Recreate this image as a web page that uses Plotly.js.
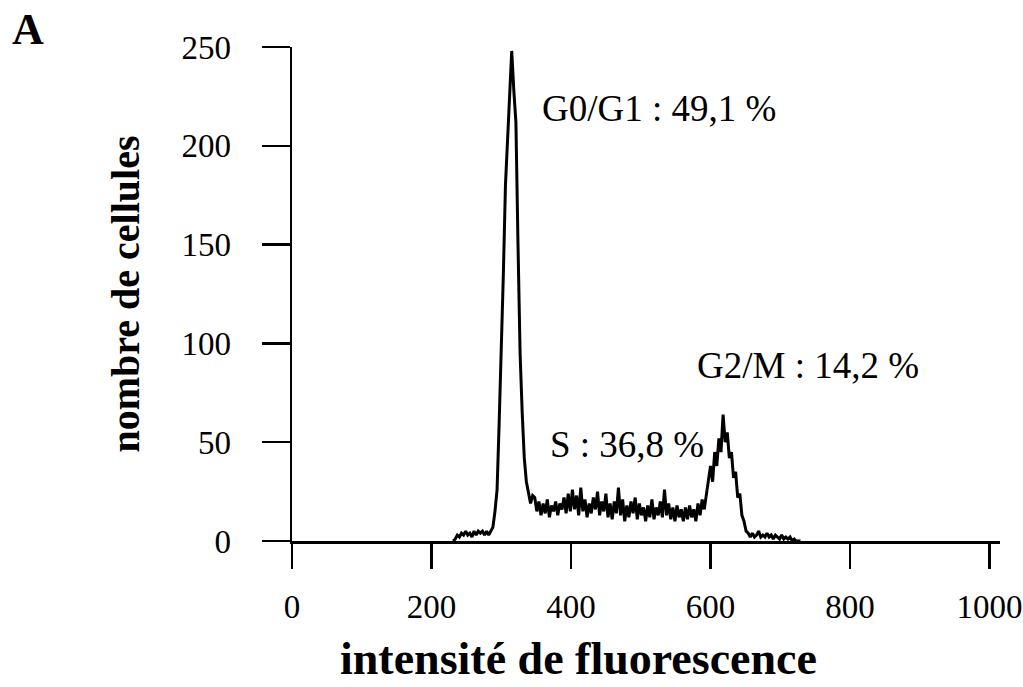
<!DOCTYPE html>
<html>
<head>
<meta charset="utf-8">
<script src="https://cdn.plot.ly/plotly-3.0.1.min.js"></script>
<style>html,body{margin:0;padding:0;background:#fff;}#chart{width:1023px;height:687px;}</style>
</head>
<body>
<div id="chart"></div>
<script>
// fluorescence channel
const channel = [
  231,234,237,240,243,246,249,252,255,258,
  261,264,267,270,273,276,279,282,285,288,
  291,294,297,300,303,306,309,312,315,318,
  321,324,327,330,333,336,339,342,345,348,
  351,354,357,360,363,366,369,372,375,378,
  381,384,387,390,393,396,399,402,405,408,
  411,414,417,420,423,426,429,432,435,438,
  441,444,447,450,453,456,459,462,465,468,
  471,474,477,480,483,486,489,492,495,498,
  501,504,507,510,513,516,519,522,525,528,
  531,534,537,540,543,546,549,552,555,558,
  561,564,567,570,573,576,579,582,585,588,
  591,594,597,600,603,606,609,612,615,618,
  621,624,627,630,633,636,639,642,645,648,
  651,654,657,660,663,666,669,672,675,678,
  681,684,687,690,693,696,699,702,705,708,
  711,714,717,720,723,726,729
];
// number of cells
const cells = [
  0,1,3,2,4,3,5,3,4,2,
  5,3,5,4,5,3,5,3,5,7,
  15,26,60,92,135,180,205,230,248,228,
  212,150,95,65,42,30,24,19,23,22,
  15,20,13,19,14,21,12,18,15,20,
  13,19,16,22,14,24,15,26,16,23,
  13,27,15,21,12,19,14,22,16,25,
  13,20,15,24,12,19,11,20,14,27,
  13,21,10,18,12,20,14,22,11,19,
  13,17,10,18,12,21,11,17,13,20,
  12,26,13,19,11,17,10,18,12,16,
  10,17,11,18,12,16,10,19,13,21,
  16,24,30,38,30,45,38,52,45,64,
  50,55,42,45,32,35,22,24,13,10,
  5,4,2,4,2,3,5,2,3,2,
  4,2,3,1,3,2,1,3,1,2,
  1,2,0,1,0,0,0
];
const xTicks = [0,200,400,600,800,1000];
const yTicks = [0,50,100,150,200,250];
const phaseLabels = ["G0/G1 : 49,1 %", "S : 36,8 %", "G2/M : 14,2 %"];
const phaseX = [356, 367, 578];
const phaseY = [219, 49, 89];

const serif = "Liberation Serif, Times New Roman, serif";

const trace = {
  x: channel, y: cells, type: 'scatter', mode: 'lines',
  line: {color: '#000', width: 3}, hoverinfo: 'skip', cliponaxis: false
};

const annotations = phaseLabels.map((t, i) => ({
  x: phaseX[i], y: phaseY[i], xref: 'x', yref: 'y', text: t,
  showarrow: false, xanchor: 'left', yanchor: 'middle',
  font: {family: serif, size: 37, color: '#000'}
}));
annotations.push({
  xref: 'paper', yref: 'paper', x: -0.373, y: 1.035, text: '<b>A</b>',
  showarrow: false, xanchor: 'center', yanchor: 'middle',
  font: {family: serif, size: 44, color: '#000'}
});
annotations.push({
  xref: 'paper', yref: 'paper', x: 0.405, y: -0.291, text: '<b>intensité de fluorescence</b>',
  showarrow: false, xanchor: 'center', yanchor: 'bottom', borderpad: 0,
  font: {family: serif, size: 46, color: '#000'}
});

const layout = {
  width: 1023, height: 687,
  margin: {l: 292, r: 23, t: 47, b: 146},
  paper_bgcolor: '#fff', plot_bgcolor: '#fff',
  showlegend: false,
  font: {family: serif, color: '#000'},
  xaxis: {
    range: [0, 1015], tickvals: xTicks, ticktext: xTicks.map(String),
    showgrid: false, zeroline: false, showline: true, linecolor: '#000', linewidth: 2.5,
    ticks: 'outside', ticklen: 25, tickwidth: 2.5, tickcolor: '#000',
    tickfont: {family: serif, size: 33, color: '#000'}, ticklabelstandoff: 10
  },
  yaxis: {
    range: [0, 250], tickvals: yTicks, ticktext: yTicks.map(String),
    showgrid: false, zeroline: false, showline: true, linecolor: '#000', linewidth: 2.5,
    ticks: 'outside', ticklen: 28, tickwidth: 2.5, tickcolor: '#000',
    tickfont: {family: serif, size: 33, color: '#000'}, ticklabelstandoff: 24,
    title: {text: '<b>nombre de cellules</b>', font: {family: serif, size: 40, color: '#000'}, standoff: 30}
  },
  annotations: annotations
};

Plotly.newPlot('chart', [trace], layout, {staticPlot: true, displayModeBar: false});
</script>
</body>
</html>
